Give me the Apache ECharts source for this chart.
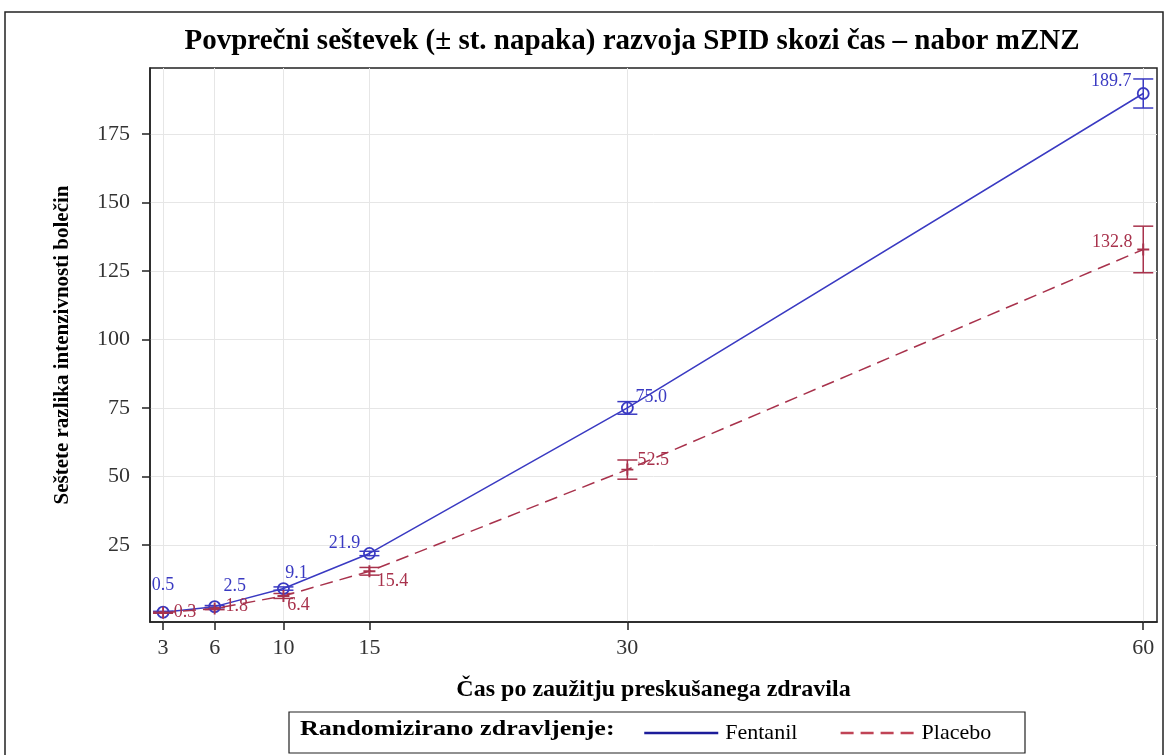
<!DOCTYPE html>
<html><head><meta charset="utf-8">
<script src="https://cdn.jsdelivr.net/npm/echarts@6/dist/echarts.min.js"></script>
<style>html,body{margin:0;padding:0;background:#fff}#c{width:1168px;height:755px}</style>
</head><body><div id="c"></div>
<script>
const times = [3, 6, 10, 15, 30, 60];
const fentanilMean = [0.5, 2.5, 9.1, 21.9, 75.0, 189.7];
const fentanilSE = [0.3, 0.4, 0.6, 0.8, 2.3, 5.3];
const placeboMean = [0.3, 1.8, 6.4, 15.4, 52.5, 132.8];
const placeboSE = [0.2, 0.4, 0.9, 1.4, 3.5, 8.5];
const xTicks = [3, 6, 10, 15, 30, 60];
const yTicks = [25, 50, 75, 100, 125, 150, 175];

const BLUE = '#3a3ac2';
const RED = '#a8324c';
const SERIF = '"Liberation Serif","DejaVu Serif",serif';

// label offsets (layout only)
const fOff = [[0, -27], [20, -20], [13, -15], [-25, -10], [24, -11], [-32, -12]];
const pOff = [[22, 0], [22, -2], [15, 9], [23, 10], [26, -9], [-31, -7]];

function errData(mean, se) { return times.map((t, i) => [t, mean[i] - se[i], mean[i] + se[i]]); }
function errSeries(mean, se, color, name) {
  return {
    type: 'custom', name: name + ' err', silent: true, z: 3,
    data: errData(mean, se),
    renderItem: function (params, api) {
      const x = api.value(0);
      const lo = api.coord([x, api.value(1)]);
      const hi = api.coord([x, api.value(2)]);
      const h = 10;
      const st = { stroke: color, lineWidth: 1.5 };
      return { type: 'group', children: [
        { type: 'line', shape: { x1: lo[0], y1: lo[1], x2: hi[0], y2: hi[1] }, style: st },
        { type: 'line', shape: { x1: lo[0] - h, y1: lo[1], x2: lo[0] + h, y2: lo[1] }, style: st },
        { type: 'line', shape: { x1: hi[0] - h, y1: hi[1], x2: hi[0] + h, y2: hi[1] }, style: st }
      ]};
    }
  };
}
function pts(mean, off) {
  return times.map((t, i) => ({ value: [t, mean[i]], label: { offset: off[i] } }));
}

const chart = echarts.init(document.getElementById('c'));
chart.setOption({
  animation: false,
  backgroundColor: '#fff',
  title: {
    text: 'Povprečni seštevek (± st. napaka) razvoja SPID skozi čas – nabor mZNZ',
    left: 627, top: 22, textAlign: 'center',
    textStyle: { fontFamily: SERIF, fontSize: 29, fontWeight: 'bold', color: '#000' }
  },
  grid: { left: 150, right: 11, top: 68, bottom: 133, show: true, borderColor: '#222', borderWidth: 1.5, backgroundColor: 'transparent' },
  xAxis: {
    type: 'value', min: 2.24, max: 60.8,
    name: 'Čas po zaužitju preskušanega zdravila', nameLocation: 'middle', nameGap: 56,
    nameTextStyle: { fontFamily: SERIF, fontSize: 24, fontWeight: 'bold', color: '#000' },
    axisLine: { show: true, onZero: false, lineStyle: { color: '#222', width: 1.5 } },
    axisTick: { show: true, length: 8, customValues: xTicks, lineStyle: { color: '#222', width: 1.5 } },
    axisLabel: { customValues: xTicks, fontFamily: SERIF, fontSize: 22, color: '#333', margin: 15 },
    splitLine: { show: true, lineStyle: { color: '#e6e6e6', width: 1 } }
  },
  yAxis: {
    type: 'value', min: -3.1, max: 199,
    name: 'Seštete razlika intenzivnosti bolečin', nameLocation: 'middle', nameGap: 77, nameRotate: 90,
    nameTextStyle: { fontFamily: SERIF, fontSize: 21, fontWeight: 'bold', color: '#000' },
    axisLine: { show: true, onZero: false, lineStyle: { color: '#222', width: 1.5 } },
    axisTick: { show: true, length: 8, customValues: yTicks, lineStyle: { color: '#222', width: 1.5 } },
    axisLabel: { customValues: yTicks, fontFamily: SERIF, fontSize: 22, color: '#333', margin: 20 },
    splitLine: { show: true, lineStyle: { color: '#e6e6e6', width: 1 } }
  },
  legend: {
    left: 638, top: 717, itemGap: 42, itemWidth: 74, itemHeight: 14,
    data: [
      { name: 'Fentanil', lineStyle: { color: '#1c1c9a', width: 2.5 } },
      { name: 'Placebo', lineStyle: { color: '#c04456', width: 2.5 } }
    ],
    itemStyle: { color: 'transparent', borderWidth: 0, opacity: 0 },
    textStyle: { fontFamily: SERIF, fontSize: 22, color: '#000', padding: [0, 0, 0, 2] }
  },
  graphic: [
    { type: 'rect', shape: { x: 5, y: 12, width: 1158, height: 760 }, style: { fill: 'none', stroke: '#222', lineWidth: 1.5 }, silent: true, z: -1 },
    { type: 'rect', shape: { x: 289, y: 712, width: 736, height: 41 }, style: { fill: 'none', stroke: '#222', lineWidth: 1.2 }, silent: true },
    { type: 'text', x: 300, y: 719, scaleX: 1.24, style: { text: 'Randomizirano zdravljenje:', font: 'bold 21px ' + SERIF, fill: '#000' }, silent: true }
  ],
  series: [
    {
      name: 'Fentanil', type: 'line', z: 4,
      data: pts(fentanilMean, fOff),
      symbol: 'circle', symbolSize: 11,
      itemStyle: { color: 'rgba(255,255,255,0)', borderColor: BLUE, borderWidth: 1.8 },
      lineStyle: { color: BLUE, width: 1.5, type: 'solid' },
      label: { show: true, position: 'inside', formatter: p => p.value[1].toFixed(1), fontFamily: SERIF, fontSize: 18, color: BLUE }
    },
    {
      name: 'Placebo', type: 'line', z: 4,
      data: pts(placeboMean, pOff),
      symbol: 'path://M4.2,0h1.6v10h-1.6z M0,4.2h10v1.6h-10z', symbolSize: 12,
      itemStyle: { color: RED, borderWidth: 0 },
      lineStyle: { color: RED, width: 1.5, type: [13, 7] },
      label: { show: true, position: 'inside', formatter: p => p.value[1].toFixed(1), fontFamily: SERIF, fontSize: 18, color: RED }
    },
    errSeries(fentanilMean, fentanilSE, BLUE, 'Fentanil'),
    errSeries(placeboMean, placeboSE, RED, 'Placebo')
  ]
});
</script></body></html>
